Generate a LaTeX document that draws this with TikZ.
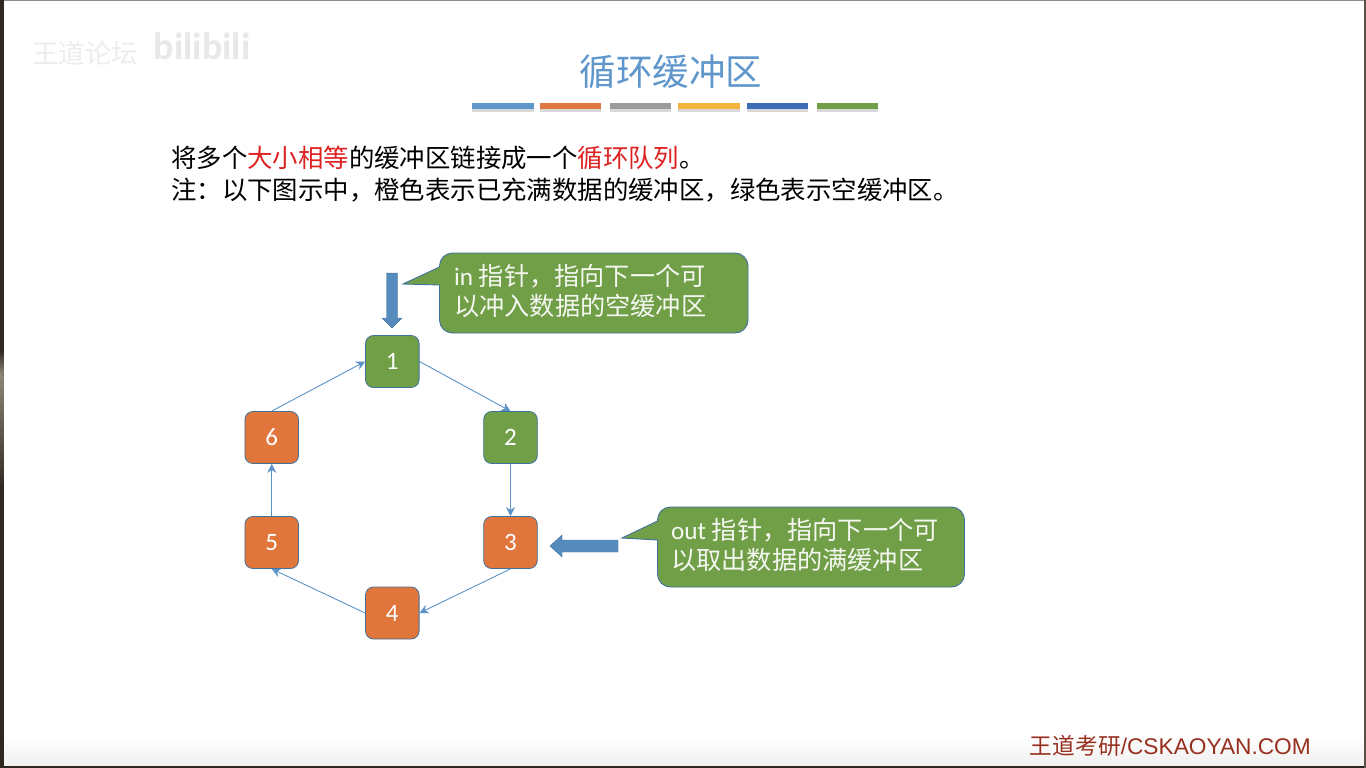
\documentclass[tikz,border=0pt]{standalone}
\usepackage{fontspec}
\setmainfont{Carlito}
\newfontfamily\cjk{Noto Sans CJK SC}
\newfontfamily\footfont{Liberation Sans}
\usetikzlibrary{shadows}
\usetikzlibrary{arrows.meta}
\definecolor{titleblue}{HTML}{5F97CC}
\definecolor{barorange}{HTML}{E07844}
\definecolor{bargray}{HTML}{9C9C9C}
\definecolor{baryellow}{HTML}{F4B33F}
\definecolor{bardark}{HTML}{3F6DB5}
\definecolor{boxgreen}{HTML}{709F47}
\definecolor{boxorange}{HTML}{E0763C}
\definecolor{edgeblue}{HTML}{41719C}
\definecolor{linkblue}{HTML}{5B93C7}
\definecolor{textred}{HTML}{DD2222}
\definecolor{footred}{HTML}{97301F}
\definecolor{stripdark}{HTML}{2E2820}
\definecolor{striptan}{HTML}{8C8678}
\definecolor{stripright}{HTML}{5A5044}
\newcommand{\fwcomma}{\char"FF0C\relax}
\newcommand{\fwcolon}{\char"FF1A\relax}
\tikzset{
  bufbox/.style={draw=edgeblue, line width=0.8pt, rounded corners=8pt, minimum width=53.6pt, minimum height=52pt, inner sep=0pt, text=white, font=\fontsize{25}{25}\selectfont},
  bufgreen/.style={bufbox, fill=boxgreen},
  buforange/.style={bufbox, fill=boxorange},
  link/.style={-{Stealth[length=9pt, width=9pt]}, draw=linkblue, line width=0.9pt},
  pointer/.style={fill=linkblue!95!black, draw=edgeblue, line width=0.4pt},
  callout/.style={fill=boxgreen, draw=edgeblue, line width=0.9pt},
  calltext/.style={anchor=north west, align=left, inner sep=0pt, text=white!93!boxgreen, font=\fontsize{25.2}{30.5}\selectfont},
  bodytext/.style={anchor=west, inner sep=0pt, font=\cjk\fontsize{25.4}{25.4}\selectfont},
  bar/.style={drop shadow={shadow xshift=0pt, shadow yshift=-2.5pt, opacity=0.3}}
}
\begin{document}
\begin{tikzpicture}[x=1pt, y=-1pt]
\useasboundingbox (0,0) rectangle (1366,768);
\fill[white] (0,0) rectangle (1366,768);
\fill[top color=white, bottom color=black!6] (3,735) rectangle (1364,766);
\fill[black!45] (0,0) rectangle (1366,1.5);
\fill[stripdark] (0,0) rectangle (3.5,768);
\fill[top color=stripdark, bottom color=striptan] (0,350) rectangle (3.5,375);
\fill[top color=striptan, bottom color=stripdark] (0,375) rectangle (3.5,490);
\fill[stripdark] (0,766) rectangle (1366,768);
\fill[stripright] (1364,0) rectangle (1366,768);

\node[text=black!7, font=\cjk\fontsize{26.5}{26.5}\selectfont, inner sep=0pt] (forum) at (85,53) {王道论坛};
\node[text=black!9, font=\bfseries\fontsize{38}{38}\selectfont, inner sep=0pt] (bili) at (202,46) {bilibili};

\node[text=titleblue, font=\cjk\fontsize{36.5}{36.5}\selectfont, inner sep=0pt] (title) at (671,72) {循环缓冲区};
\foreach \x/\w/\c in {472/62/titleblue, 540/61/barorange, 610/61/bargray, 678/62/baryellow, 747/61/bardark, 817/61/boxgreen} {
  \fill[\c, bar] (\x,103) rectangle ++(\w,6);
}

\node[bodytext] (line1) at (171,158) {将多个\textcolor{textred}{大小相等}的缓冲区链接成一个\textcolor{textred}{循环队列}。};
\node[bodytext] (line2) at (171,190) {注\fwcolon 以下图示中\fwcomma 橙色表示已充满数据的缓冲区\fwcomma 绿色表示空缓冲区。};

\node[bufgreen] (n1) at (392.3,361.5) {1};
\node[bufgreen] (n2) at (510.5,437.5) {2};
\node[buforange] (n3) at (510.5,542.5) {3};
\node[buforange] (n4) at (392.3,613) {4};
\node[buforange] (n5) at (271.7,542.5) {5};
\node[buforange] (n6) at (271.7,437.5) {6};

\draw[link] (n1.east) -- (n2.north);
\draw[link] (n2.south) -- (n3.north);
\draw[link] (n3.south) -- (n4.east);
\draw[link] (n4.west) -- (n5.south);
\draw[link] (n5.north) -- (n6.south);
\draw[link] (n6.north) -- (n1.west);

\draw[pointer] (386.5,273) -- (397.5,273) -- (397.5,318) -- (402,318) -- (392,328) -- (382,318) -- (386.5,318) -- cycle;
\draw[pointer] (618,540) -- (618,552) -- (562,552) -- (562,557) -- (550,546) -- (562,535) -- (562,540) -- cycle;

\draw[callout, rounded corners=13pt] (439.5,310) -- (439.5,333) -- (748,333) -- (748,253) -- (439.5,253) [sharp corners] -- (439.5,267) -- (403,284) -- (439.5,285) -- cycle;
\draw[callout, rounded corners=13pt] (657.5,565) -- (657.5,587) -- (964.5,587) -- (964.5,507) -- (657.5,507) [sharp corners] -- (657.5,521) -- (622,538) -- (657.5,540) -- cycle;

\node[calltext] (intext) at (454,264) {in {\cjk 指针\fwcomma 指向下一个可}\\{\cjk 以冲入数据的空缓冲区}};
\node[calltext] (outtext) at (671,518) {out {\cjk 指针\fwcomma 指向下一个可}\\{\cjk 以取出数据的满缓冲区}};

\node[text=footred, inner sep=0pt, anchor=east, font=\footfont\fontsize{22.7}{22.7}\selectfont] (foot) at (1311,746) {{\cjk 王道考研}/CSKAOYAN.COM};
\end{tikzpicture}
\end{document}
